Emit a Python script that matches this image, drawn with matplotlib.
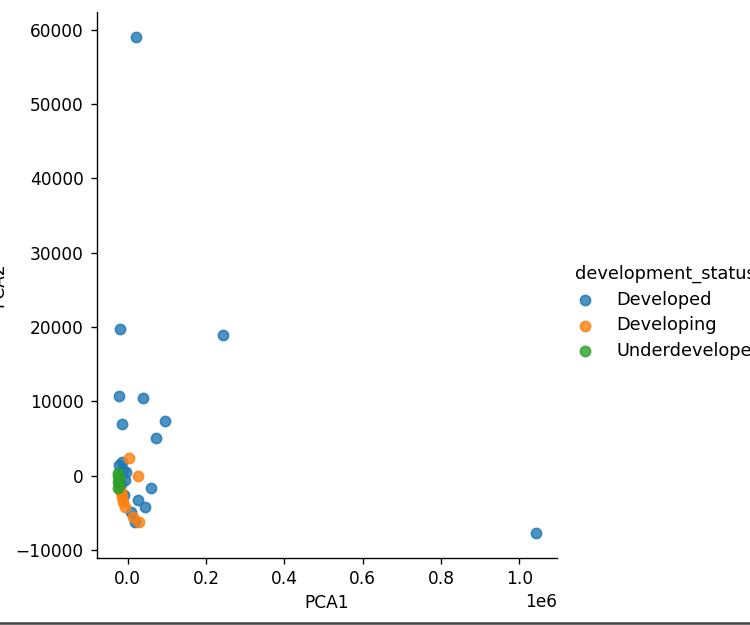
import numpy as np
import matplotlib
matplotlib.use("Agg")
import matplotlib.pyplot as plt
from matplotlib.lines import Line2D

# PCA scores, by development status
dev_x = [21200, 243700, 1041700, -19700, -22300, 39900, -15300, 95400, 72400, 59600,
         -15300, -21000, -12000, -6900, -17100, 27100, 44200, 7700, 18700, -9500, -4300]
dev_y = [59050, 18920, -7700, 19730, 10680, 10450, 6990, 7340, 5040, -1620,
         1890, 1490, 810, -540, -1080, -3280, -4190, -4860, -6220, -2570, 540]

ing_x = [3300, 27100, -15300, -11300, 14300, 29700, -20000, -6900, -17100]
ing_y = [2340, -40, -2840, -3510, -5540, -6220, -1890, -4190, -2160]

und_x = [-23500, -24000, -23800, -22500, -23000, -23200]
und_y = [0, -810, -1720, -400, -1220, 400]

groups = ["Developed", "Developing", "Underdeveloped"]
colors = ["#1f77b4", "#ff7f0e", "#2ca02c"]

DPI = 122
fig = plt.figure(figsize=(750 / DPI, 625 / DPI), dpi=DPI)
ax = fig.add_axes([0.1297, 0.1077, 0.6126, 0.8731])

for name, c, xs, ys in zip(groups, colors,
                           [dev_x, ing_x, und_x], [dev_y, ing_y, und_y]):
    ax.scatter(xs, ys, s=36, color=c, alpha=0.8, linewidths=1, label=name)

ax.spines["top"].set_visible(False)
ax.spines["right"].set_visible(False)
ax.tick_params(axis="y", pad=4.5)
ax.set_xlabel("PCA1")
ax.set_ylabel("PCA2")
ax.yaxis.set_label_coords(-0.195, 0.5)

leg = ax.legend(title="development_status", frameon=False, loc="center left",
                bbox_to_anchor=(0.745, 0.500), bbox_transform=fig.transFigure,
                alignment="left", handlelength=1.15, handletextpad=1.2,
                fontsize=10.5, title_fontsize=10.5, labelspacing=0.42)

# screenshot border at the bottom
fig.add_artist(Line2D([0, 1], [0.003, 0.003], color="#444444", lw=1.5,
                      transform=fig.transFigure))

fig.savefig("out.png", dpi=DPI)
